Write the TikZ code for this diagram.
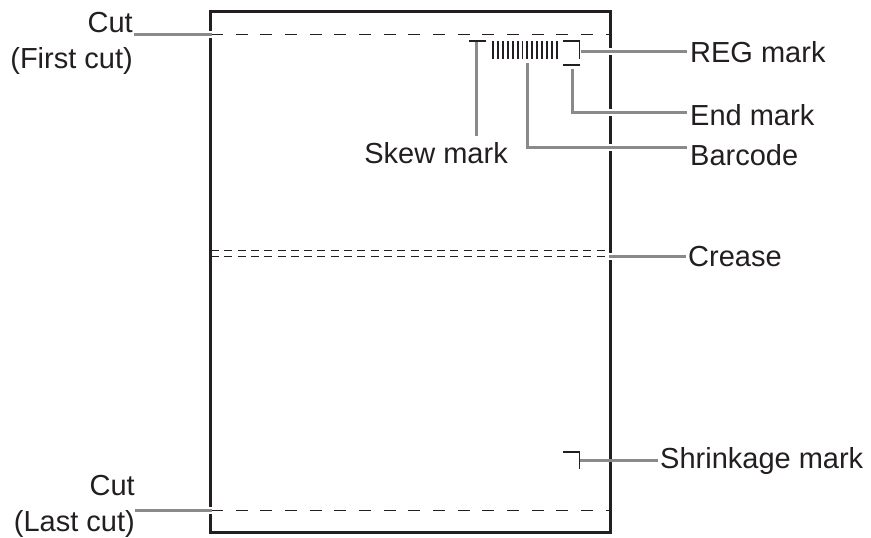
\documentclass[tikz,border=0pt]{standalone}
\usepackage{fontspec}
\setmainfont{Liberation Sans}
\definecolor{ink}{HTML}{231F20}
\definecolor{lead}{HTML}{8A8A8C}
\begin{document}
\begin{tikzpicture}[x=1pt,y=-1pt,
  frame/.style={draw=ink,line width=3pt},
  cutline/.style={draw=ink,line width=1.3pt,dash pattern=on 12pt off 12.67pt},
  creaseline/.style={draw=ink,line width=1.3pt,dash pattern=on 8pt off 5.3pt},
  markline/.style={draw=ink,line width=1.6pt},
  leader/.style={draw=lead,line width=3pt,preaction={draw=white,line width=7pt}},
  lab/.style={font=\fontsize{29}{35.5}\selectfont,inner sep=0pt,text=ink},
  labc/.style={lab,align=right}]
\useasboundingbox (0,0) rectangle (871,538);
\fill[white] (0,0) rectangle (871,538);
\draw[frame] (210,11) rectangle (610.5,532);
\draw[cutline] (211,34.5) -- (610,34.5);
\draw[cutline] (211,510.5) -- (612,510.5);
\draw[creaseline] (211,250.5) -- (610,250.5);
\draw[creaseline] (211,256.5) -- (610,256.5);
% skew mark
\draw[markline] (469,41) -- (486,41);
% barcode
\foreach \x/\w in {493.3/1.7,498.3/1.7,503.2/1.7,507.8/1.7,512.8/1.7,517.8/2.4,522.4/1.7,527.3/1.7,532.3/1.7,537.3/1.7,542.3/1.7,547.3/1.7,552.3/1.7,556.8/1.7}
  \draw[draw=ink,line width=\w pt] (\x,41) -- (\x,59);
% reg mark
\draw[markline] (563,41) -- (579.5,41) -- (579.5,59);
% end mark
\draw[markline] (563,65) -- (580,65);
% shrinkage mark
\draw[markline] (563,452) -- (579.5,452) -- (579.5,469);
% labels
\node[labc,anchor=base east] (cut1) at (133,68) {Cut\\(First cut)};
\node[labc,anchor=base east] (cut2) at (135,531) {Cut\\(Last cut)};
\node[lab,anchor=base west] (reg) at (690,62) {REG mark};
\node[lab,anchor=base west] (endm) at (690,125) {End mark};
\node[lab,anchor=base west] (bar) at (690,165) {Barcode};
\node[lab,anchor=base west] (crease) at (688,266) {Crease};
\node[lab,anchor=base west] (shr) at (660,468) {Shrinkage mark};
\node[lab,anchor=base east] (skew) at (508,163) {Skew mark};
\coordinate (p1) at (134,34.5);
\coordinate (p1e) at (211.5,34.5);
\coordinate (p2s) at (135,510.5);
\coordinate (p2) at (212,510.5);
\coordinate (p3) at (581,51);
\coordinate (p3e) at (687,51);
\coordinate (p4) at (572.7,69);
\coordinate (p4e) at (687,112);
\coordinate (p5) at (527,63);
\coordinate (p5e) at (687,147);
\coordinate (p6) at (476,42);
\coordinate (p6e) at (476,136);
\coordinate (p7) at (609,256.7);
\coordinate (p7e) at (686,256.7);
\coordinate (p8) at (580,460);
\coordinate (p8e) at (658,460);
% leaders
\draw[leader] (p1) -- (p1e);
\draw[leader] (p2s) -- (p2);
\draw[leader] (p3) -- (p3e);
\draw[leader] (p4) |- (p4e);
\draw[leader] (p5) |- (p5e);
\draw[draw=lead,line width=3pt] (p6) -- (p6e);
\draw[leader] (p7) -- (p7e);
\draw[draw=lead,line width=3pt] (p8) -- (p8e);
\end{tikzpicture}
\end{document}
